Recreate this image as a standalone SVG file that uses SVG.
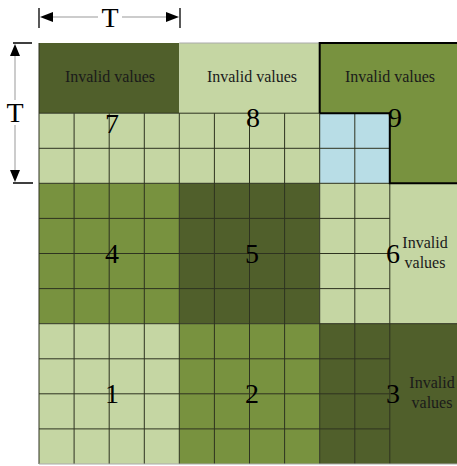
<svg xmlns="http://www.w3.org/2000/svg" width="457" height="466" viewBox="0 0 457 466">
<style>
.dk{fill:#505f2b}
.md{fill:#78923f}
.lt{fill:#c5d6a3}
.bl{fill:#b8dde6}
.grid{stroke:#2e3320;stroke-width:1;fill:none}
.num{font-family:"Liberation Serif","Times New Roman",serif;font-size:28px;fill:#000;text-anchor:middle}
.inv{font-family:"Liberation Serif","Times New Roman",serif;font-size:16px;fill:#1a1a1a;text-anchor:middle}
.dim{stroke:#999;stroke-width:1;fill:none}
.tick{stroke:#000;stroke-width:1.3;fill:none}
.ah{fill:#000}
</style>
<rect width="457" height="466" fill="#fff"/>
<g id="block7">
<rect class="dk" x="39" y="43" width="140.3" height="70.2"/>
<rect class="lt" x="39" y="113.2" width="140.3" height="70.1"/>
<text class="inv" x="110" y="82">Invalid values</text>
</g>
<g id="block8">
<rect class="lt" x="179.3" y="43" width="140.4" height="140.3"/>
<text class="inv" x="252" y="82">Invalid values</text>
</g>
<g id="block9">
<rect class="md" x="319.7" y="43" width="140.3" height="140.3"/>
<rect class="bl" x="319.7" y="113.2" width="70.1" height="70.1"/>
<text class="inv" x="390" y="82">Invalid values</text>
</g>
<g id="block4"><rect class="md" x="39" y="183.3" width="140.3" height="140.4"/></g>
<g id="block5"><rect class="dk" x="179.3" y="183.3" width="140.4" height="140.4"/></g>
<g id="block6">
<rect class="lt" x="319.7" y="183.3" width="140.3" height="140.4"/>
<text class="inv" x="425" y="248">Invalid</text>
<text class="inv" x="425" y="268">values</text>
</g>
<g id="block1"><rect class="lt" x="39" y="323.7" width="140.3" height="140.3"/></g>
<g id="block2"><rect class="md" x="179.3" y="323.7" width="140.4" height="140.3"/></g>
<g id="block3">
<rect class="dk" x="319.7" y="323.7" width="140.3" height="140.3"/>
<text class="inv" x="432" y="388">Invalid</text>
<text class="inv" x="432" y="408">values</text>
</g>
<g id="gridlines">
<path class="grid" d="M39,43V464M74.1,113.2V464M109.2,113.2V464M144.3,113.2V464M179.3,113.2V464M214.4,113.2V464M249.5,113.2V464M284.6,113.2V464M319.7,113.2V464M354.8,113.2V464M389.8,183.3V464
M39,113.2H319.7M39,148.3H389.8M39,183.3H389.8M39,218.4H389.8M39,253.5H389.8M39,288.6H389.8M39,323.7H460M39,358.8H389.8M39,393.8H389.8M39,428.9H389.8"/>
<path d="M39,464H460M179.3,43H319.7" stroke="#aaa" stroke-width="1" fill="none"/>
<path d="M319.7,113.2V43H460M319.7,113.2H389.8V183.3H460" stroke="#000" stroke-width="2" fill="none"/>
</g>
<g id="labels">
<text class="num" x="112" y="133">7</text>
<text class="num" x="253" y="127">8</text>
<text class="num" x="395" y="127">9</text>
<text class="num" x="112" y="263">4</text>
<text class="num" x="252" y="263">5</text>
<text class="num" x="393" y="263">6</text>
<text class="num" x="112" y="403">1</text>
<text class="num" x="252" y="403">2</text>
<text class="num" x="393" y="403">3</text>
</g>
<g id="connectors">
<path class="dim" d="M45,17H98M122,17H174"/>
<path class="tick" d="M39,8V28M180,8V28"/>
<polygon class="ah" points="40,17 53,12 53,22"/>
<polygon class="ah" points="179,17 166,12 166,22"/>
<text class="num" x="110" y="27">T</text>
<path class="dim" d="M15,50V100M15,125V177"/>
<path class="tick" d="M13,43H32M13,183H33"/>
<polygon class="ah" points="15,44 10,56 20,56"/>
<polygon class="ah" points="15,182 10,170 20,170"/>
<text class="num" x="15" y="122">T</text>
</g>
</svg>
